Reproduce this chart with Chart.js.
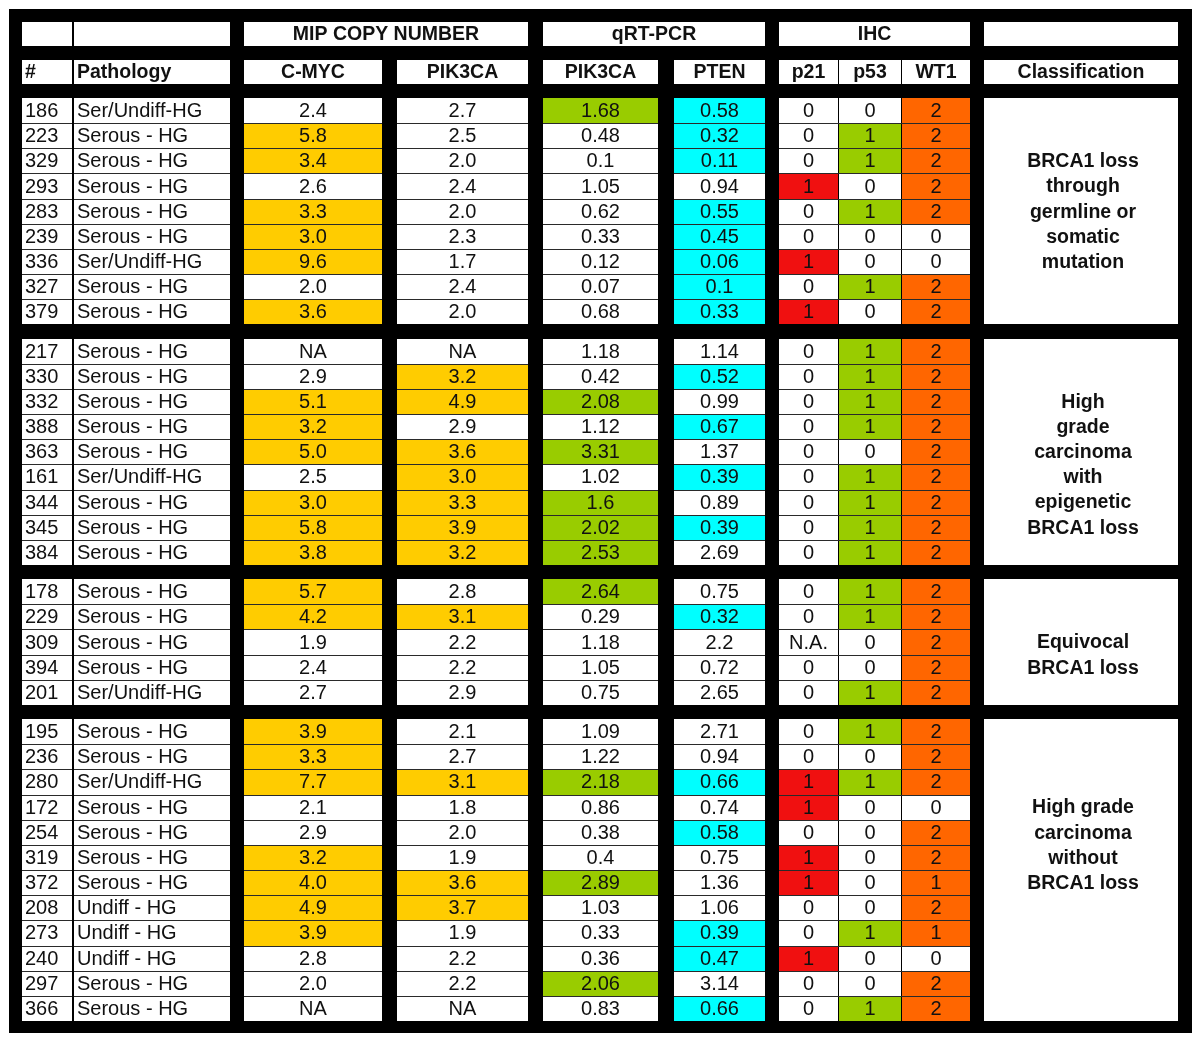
<!DOCTYPE html>
<html>
<head>
<meta charset="utf-8">
<title>BRCA1 classification table</title>
<script src="https://cdn.jsdelivr.net/npm/chart.js@4.4.1/dist/chart.umd.min.js"></script>
<style>
    html, body { margin: 0; padding: 0; background: #ffffff; }
    #tableChart { display: block; }
</style>
</head>
<body>
<canvas id="tableChart" width="1200" height="1041"></canvas>
<script>
// ==========================
// Table data
// ==========================

const sampleIds = [
    186, 223, 329, 293, 283, 239, 336, 327, 379,
    217, 330, 332, 388, 363, 161, 344, 345, 384,
    178, 229, 309, 394, 201,
    195, 236, 280, 172, 254, 319, 372, 208, 273, 240, 297, 366
];

const pathology = [
    "Ser/Undiff-HG", "Serous - HG", "Serous - HG", "Serous - HG", "Serous - HG",
    "Serous - HG", "Ser/Undiff-HG", "Serous - HG", "Serous - HG",
    "Serous - HG", "Serous - HG", "Serous - HG", "Serous - HG", "Serous - HG",
    "Ser/Undiff-HG", "Serous - HG", "Serous - HG", "Serous - HG",
    "Serous - HG", "Serous - HG", "Serous - HG", "Serous - HG", "Ser/Undiff-HG",
    "Serous - HG", "Serous - HG", "Ser/Undiff-HG", "Serous - HG", "Serous - HG",
    "Serous - HG", "Serous - HG", "Undiff - HG", "Undiff - HG", "Undiff - HG",
    "Serous - HG", "Serous - HG"
];

// MIP copy number
const cmycCopy = [
    2.4, 5.8, 3.4, 2.6, 3.3, 3.0, 9.6, 2.0, 3.6,
    null, 2.9, 5.1, 3.2, 5.0, 2.5, 3.0, 5.8, 3.8,
    5.7, 4.2, 1.9, 2.4, 2.7,
    3.9, 3.3, 7.7, 2.1, 2.9, 3.2, 4.0, 4.9, 3.9, 2.8, 2.0, null
];

const pik3caCopy = [
    2.7, 2.5, 2.0, 2.4, 2.0, 2.3, 1.7, 2.4, 2.0,
    null, 3.2, 4.9, 2.9, 3.6, 3.0, 3.3, 3.9, 3.2,
    2.8, 3.1, 2.2, 2.2, 2.9,
    2.1, 2.7, 3.1, 1.8, 2.0, 1.9, 3.6, 3.7, 1.9, 2.2, 2.2, null
];

// qRT-PCR
const pik3caExpr = [
    1.68, 0.48, 0.1, 1.05, 0.62, 0.33, 0.12, 0.07, 0.68,
    1.18, 0.42, 2.08, 1.12, 3.31, 1.02, 1.6, 2.02, 2.53,
    2.64, 0.29, 1.18, 1.05, 0.75,
    1.09, 1.22, 2.18, 0.86, 0.38, 0.4, 2.89, 1.03, 0.33, 0.36, 2.06, 0.83
];

const ptenExpr = [
    0.58, 0.32, 0.11, 0.94, 0.55, 0.45, 0.06, 0.1, 0.33,
    1.14, 0.52, 0.99, 0.67, 1.37, 0.39, 0.89, 0.39, 2.69,
    0.75, 0.32, 2.2, 0.72, 2.65,
    2.71, 0.94, 0.66, 0.74, 0.58, 0.75, 1.36, 1.06, 0.39, 0.47, 3.14, 0.66
];

// IHC scores
const p21Score = [
    0, 0, 0, 1, 0, 0, 1, 0, 1,
    0, 0, 0, 0, 0, 0, 0, 0, 0,
    0, 0, null, 0, 0,
    0, 0, 1, 1, 0, 1, 1, 0, 0, 1, 0, 0
];

const p53Score = [
    0, 1, 1, 0, 1, 0, 0, 1, 0,
    1, 1, 1, 1, 0, 1, 1, 1, 1,
    1, 1, 0, 0, 1,
    1, 0, 1, 0, 0, 0, 0, 0, 1, 0, 0, 1
];

const wt1Score = [
    2, 2, 2, 2, 2, 0, 0, 2, 2,
    2, 2, 2, 2, 2, 2, 2, 2, 2,
    2, 2, 2, 2, 2,
    2, 2, 2, 0, 2, 2, 1, 2, 1, 0, 2, 2
];

// groups (rows per classification block)
const groupSizes = [9, 9, 5, 12];

const groupLabels = [
    ["BRCA1 loss", "through", "germline or", "somatic", "mutation"],
    ["", "High", "grade", "carcinoma", "with", "epigenetic", "BRCA1 loss"],
    ["", "Equivocal", "BRCA1 loss"],
    ["High grade", "carcinoma", "without", "BRCA1 loss", "", ""]
];

const topHeaders = ["", "", "MIP COPY NUMBER", "qRT-PCR", "IHC", ""];
const columnHeaders = ["#", "Pathology", "C-MYC", "PIK3CA", "PIK3CA", "PTEN", "p21", "p53", "WT1", "Classification"];

// ==========================
// Layout (x in column units, y in row units)
// ==========================

const colWidths = [50, 156, 138, 131, 115, 91, 59, 62, 68, 194];
const colGaps = [0, 2, 14, 15, 15, 16, 14, 1, 1, 14];
const topSpans = [[0, 0], [1, 1], [2, 3], [4, 5], [6, 8], [9, 9]];

const headerHeight = 0.95;
const blockGap = 0.56;

const colLeft = [];
let cursor = 0;
colWidths.forEach((w, i) => {
    cursor += colGaps[i];
    colLeft.push(cursor);
    cursor += w;
});
const totalWidth = cursor;

const header1Top = 0;
const header2Top = headerHeight + blockGap;
const dataTop = header2Top + headerHeight + blockGap;
const totalRows = groupSizes.reduce((a, b) => a + b, 0);
const totalHeight = dataTop + totalRows + (groupSizes.length - 1) * blockGap;

// row tops in y units
const groupTops = [];
const rowTops = [];
let rowCursor = dataTop;
groupSizes.forEach((n, g) => {
    if (g > 0) rowCursor += blockGap;
    groupTops.push(rowCursor);
    for (let i = 0; i < n; i++) {
        rowTops.push(rowCursor + i);
    }
    rowCursor += n;
});

// ==========================
// Cell colours
// ==========================

const YELLOW = "#FFCC00";
const GREEN = "#99CC00";
const CYAN = "#00FFFF";
const RED = "#F01010";
const ORANGE = "#FF6600";

const fmtCopy = v => v === null ? "NA" : v.toFixed(1);
const fmtExpr = v => String(v);
const fmtScore = v => v === null ? "N.A." : String(v);

const dataColumns = [
    { col: 2, values: cmycCopy, fmt: fmtCopy, fill: v => v !== null && v >= 3.0 ? YELLOW : "#fff" },
    { col: 3, values: pik3caCopy, fmt: fmtCopy, fill: v => v !== null && v >= 3.0 ? YELLOW : "#fff" },
    { col: 4, values: pik3caExpr, fmt: fmtExpr, fill: v => v >= 1.5 ? GREEN : "#fff" },
    { col: 5, values: ptenExpr, fmt: fmtExpr, fill: v => v <= 0.67 ? CYAN : "#fff" },
    { col: 6, values: p21Score, fmt: fmtScore, fill: v => v === 1 ? RED : "#fff" },
    { col: 7, values: p53Score, fmt: fmtScore, fill: v => v === 1 ? GREEN : "#fff" },
    { col: 8, values: wt1Score, fmt: fmtScore, fill: v => v >= 1 ? ORANGE : "#fff" }
];

// ==========================
// Table drawing plugin
// ==========================

const tablePlugin = {
    id: "tablePlugin",
    beforeDraw(chart) {
        const ctx = chart.ctx;
        const x = chart.scales.x;
        const y = chart.scales.y;
        const area = chart.chartArea;

        const px = v => x.getPixelForValue(v);
        const py = v => y.getPixelForValue(v);

        function rect(x0, x1, y0, y1) {
            const l = Math.round(px(x0));
            const r = Math.round(px(x1));
            const t = Math.round(py(y0));
            const b = Math.round(py(y1));
            return [l, t, r - l, b - t];
        }

        function cell(c0, c1, y0, y1, fill) {
            ctx.fillStyle = fill;
            ctx.fillRect(...rect(colLeft[c0], colLeft[c1] + colWidths[c1], y0, y1));
        }

        function text(str, c, y0, y1, align, font) {
            ctx.font = font;
            ctx.fillStyle = "#111";
            ctx.textBaseline = "middle";
            ctx.textAlign = align;
            const cy = (py(y0) + py(y1)) / 2 + 1;
            if (align === "left") {
                ctx.fillText(str, px(colLeft[c]) + 3, cy);
            } else {
                ctx.fillText(str, px(colLeft[c] + colWidths[c] / 2), cy);
            }
        }

        ctx.save();

        // page + black frame
        ctx.fillStyle = "#ffffff";
        ctx.fillRect(0, 0, chart.width, chart.height);
        ctx.fillStyle = "#000000";
        ctx.fillRect(area.left - 13, area.top - 13, area.right - area.left + 27, area.bottom - area.top + 25);

        const regular = "20px 'Liberation Sans', Arial, sans-serif";
        const bold = "bold 19.5px 'Liberation Sans', Arial, sans-serif";

        // ---------------- Header row 1 ----------------
        topSpans.forEach((span, i) => {
            cell(span[0], span[1], header1Top, header1Top + headerHeight, "#fff");
            if (topHeaders[i]) {
                ctx.font = bold;
                ctx.fillStyle = "#111";
                ctx.textAlign = "center";
                ctx.textBaseline = "middle";
                const cx = (px(colLeft[span[0]]) + px(colLeft[span[1]] + colWidths[span[1]])) / 2;
                ctx.fillText(topHeaders[i], cx, (py(header1Top) + py(header1Top + headerHeight)) / 2 + 1);
            }
        });

        // ---------------- Header row 2 ----------------
        columnHeaders.forEach((label, c) => {
            cell(c, c, header2Top, header2Top + headerHeight, "#fff");
            text(label, c, header2Top, header2Top + headerHeight, c < 2 ? "left" : "center", bold);
        });

        // ---------------- Data rows ----------------
        rowTops.forEach((top, r) => {
            const bottom = top + 1;

            cell(0, 0, top, bottom, "#fff");
            text(String(sampleIds[r]), 0, top, bottom, "left", regular);

            cell(1, 1, top, bottom, "#fff");
            text(pathology[r], 1, top, bottom, "left", regular);

            dataColumns.forEach(dc => {
                const v = dc.values[r];
                cell(dc.col, dc.col, top, bottom, dc.fill(v));
                text(dc.fmt(v), dc.col, top, bottom, "center", regular);
            });
        });

        // thin row separators inside each block
        ctx.strokeStyle = "#2a2a2a";
        ctx.lineWidth = 1;
        groupSizes.forEach((n, g) => {
            for (let i = 1; i < n; i++) {
                const yy = Math.round(py(groupTops[g] + i)) + 0.5;
                [[0, 0], [1, 1], [2, 2], [3, 3], [4, 4], [5, 5], [6, 8]].forEach(span => {
                    ctx.beginPath();
                    ctx.moveTo(Math.round(px(colLeft[span[0]])), yy);
                    ctx.lineTo(Math.round(px(colLeft[span[1]] + colWidths[span[1]])), yy);
                    ctx.stroke();
                });
            }
        });

        // ---------------- Classification blocks ----------------
        groupSizes.forEach((n, g) => {
            const top = groupTops[g];
            cell(9, 9, top, top + n, "#fff");

            const lines = groupLabels[g];
            const mid = top + n / 2;
            ctx.font = bold;
            ctx.fillStyle = "#111";
            ctx.textAlign = "center";
            ctx.textBaseline = "middle";
            lines.forEach((line, i) => {
                const yv = mid + (i - (lines.length - 1) / 2);
                ctx.fillText(line, px(colLeft[9] + colWidths[9] / 2) + 2, py(yv) + 1);
            });
        });

        ctx.restore();
    }
};

// ==========================
// Chart
// ==========================

const ctx = document.getElementById("tableChart").getContext("2d");

const tableChart = new Chart(ctx, {
    type: "scatter",
    data: {
        datasets: []
    },
    options: {
        responsive: false,
        animation: false,
        devicePixelRatio: 1,
        layout: {
            padding: { left: 22, right: 22, top: 22, bottom: 20 }
        },
        plugins: {
            legend: { display: false },
            tooltip: { enabled: false }
        },
        scales: {
            x: {
                type: "linear",
                min: 0,
                max: totalWidth,
                display: false
            },
            y: {
                type: "linear",
                min: 0,
                max: totalHeight,
                reverse: true,
                display: false
            }
        }
    },
    plugins: [tablePlugin]
});
</script>
</body>
</html>
